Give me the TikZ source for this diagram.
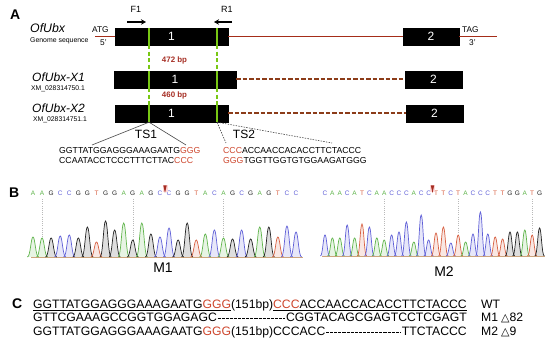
\documentclass[tikz,border=0pt]{standalone}
\usepackage{fontspec}
\setmainfont{Liberation Sans}
\newfontfamily\symfont{DejaVu Sans}
\usetikzlibrary{calc,arrows.meta}
\definecolor{gline}{RGB}{165,45,25}
\definecolor{dline}{RGB}{140,60,25}
\definecolor{bpred}{RGB}{165,45,35}
\definecolor{seqred}{RGB}{205,70,45}
\definecolor{tsgreen}{RGB}{120,200,20}
\definecolor{baseA}{RGB}{95,180,75}
\definecolor{baseC}{RGB}{95,95,215}
\definecolor{baseG}{RGB}{35,35,35}
\definecolor{baseT}{RGB}{215,95,65}
\definecolor{tickgray}{RGB}{185,185,185}
\definecolor{baselinecol}{RGB}{205,165,125}
\definecolor{tsline}{RGB}{70,70,70}
\newcommand{\myfs}[1]{\fontsize{#1}{#1}\selectfont}
\begin{document}
\begin{tikzpicture}[x=1pt,y=-1pt,
  exonbox/.style={fill=black,draw=black,text=white,minimum height=17pt,inner sep=0pt,font=\myfs{12}},
  lbl/.style={inner sep=0pt,anchor=base west},
  clbl/.style={inner sep=0pt,anchor=base},
  panel/.style={lbl,font=\myfs{14}\bfseries},
  gene/.style={lbl,font=\myfs{12.3}\itshape},
  acc/.style={lbl,font=\myfs{6.8}},
  small/.style={lbl,font=\myfs{8.3}},
  bp/.style={clbl,font=\myfs{7.9}\bfseries,text=bpred},
  seqA/.style={lbl,font=\myfs{8.7}},
  seqC/.style={lbl,font=\myfs{12.2}},
  glinestyle/.style={draw=gline,line width=1.3pt},
  intron/.style={draw=dline,line width=2pt,dash pattern=on 4.5pt off 2pt},
  greensolid/.style={draw=tsgreen,line width=2pt},
  greendash/.style={draw=tsgreen,line width=1.8pt,dash pattern=on 4pt off 2.5pt},
  primer/.style={-{Stealth[length=5pt,width=5.5pt]},line width=1.3pt},
  baselet/.style={inner sep=0pt,anchor=base,font=\myfs{6.5}},
  tick/.style={draw=tickgray,line width=0.5pt,dash pattern=on 1pt off 1.2pt},
  hyph/.style={line width=0.85pt,dash pattern=on 3.1pt off 1pt},
  zoomline/.style={draw=tsline,line width=0.6pt},
  zoomdots/.style={draw=tsline,line width=0.6pt,dash pattern=on 1.5pt off 1.2pt}
]
\useasboundingbox (0,0) rectangle (550,347);

% ---------------- Panel A ----------------
\node[panel] (pA) at (10,20) {A};
\node[clbl,font=\myfs{9}] (f1) at (136,13) {F1};
\node[clbl,font=\myfs{9}] (r1) at (227,13) {R1};
\coordinate (f1s) at (127,22); \coordinate (f1e) at (146,22);
\coordinate (r1s) at (232,22); \coordinate (r1e) at (214,22);
\draw[primer] (f1s) -- (f1e);
\draw[primer] (r1s) -- (r1e);

\node[gene] (ofubx) at (30,33) {OfUbx};
\node[lbl,font=\myfs{6.9}] (gseq) at (30,43) {Genome sequence};
\node[small] (atg) at (92,33) {ATG};
\node[small] (five) at (100,45.5) {5'};
\node[small] (tag) at (462,33) {TAG};
\node[small] (three) at (469,45.5) {3'};

\node[exonbox,minimum width=113pt] (g1) at (171.5,36.5) {1};
\node[exonbox,minimum width=56pt] (g2) at (431,36.5) {2};
\coordinate (gs) at (95,36.5);
\coordinate (ge) at (497,36.5);
\path[glinestyle] (gs) -- (g1.west);
\path[glinestyle] (g1.east) -- (g2.west);
\path[glinestyle] (g2.east) -- (ge);

\node[gene,font=\myfs{12}\itshape] (x1name) at (32,82) {OfUbx-X1};
\node[acc] (x1acc) at (31,91) {XM\_028314750.1};
\node[exonbox,minimum width=122pt] (x1a) at (175,79.5) {1};
\node[exonbox,minimum width=57pt] (x1b) at (433.5,79.5) {2};
\path[intron] (x1a.east) -- (x1b.west);

\node[gene,font=\myfs{12}\itshape] (x2name) at (32,113) {OfUbx-X2};
\node[acc] (x2acc) at (33,122) {XM\_028314751.1};
\node[exonbox,minimum width=113pt] (x2a) at (171.5,113.5) {1};
\node[exonbox,minimum width=57pt] (x2b) at (434.5,113.5) {2};
\path[intron] (x2a.east) -- (x2b.west);

\node[bp] (bp472) at (174.5,63) {472 bp};
\node[bp] (bp460) at (174.5,98) {460 bp};

% target sites (green lines)
\coordinate (tsa) at (149,0);
\coordinate (tsb) at (217,0);
\path[greendash] (tsa |- g1.south) -- (tsa |- x1a.north);
\path[greendash] (tsa |- x1a.south) -- (tsa |- x2a.north);
\path[greensolid] (tsa |- g1.north) -- (tsa |- g1.south);
\path[greensolid] (tsa |- x1a.north) -- (tsa |- x1a.south);
\path[greensolid] (tsa |- x2a.north) -- (tsa |- x2a.south);
\path[greendash] (tsb |- g1.south) -- (tsb |- x1a.north);
\path[greendash] (tsb |- x1a.south) -- (tsb |- x2a.north);
\path[greensolid] (tsb |- g1.north) -- (tsb |- g1.south);
\path[greensolid] (tsb |- x1a.north) -- (tsb |- x1a.south);
\path[greensolid] (tsb |- x2a.north) -- (tsb |- x2a.south);

% TS zoom lines
\coordinate (ts1a) at (92,145);
\coordinate (ts1b) at (186,145);
\coordinate (ts2a) at (226,143);
\coordinate (ts2b) at (332,143);
\path[zoomline] (tsa |- x2a.south) -- (ts1a);
\path[zoomline] (tsa |- x2a.south) -- (ts1b);
\path[zoomdots] (tsb |- x2a.south) -- (ts2a);
\path[zoomdots] (tsb |- x2a.south) -- (ts2b);
\node[clbl,font=\myfs{12},fill=white,inner sep=1pt] (ts1) at (146,139) {TS1};
\node[clbl,font=\myfs{12},fill=white,inner sep=1pt] (ts2) at (244,139) {TS2};

\node[seqA] (s1) at (59,154) {GGTTATGGAGGGAAAGAATG\textcolor{seqred}{GGG}};
\node[seqA] (s2) at (59,163.5) {CCAATACCTCCCTTTCTTAC\textcolor{seqred}{CCC}};
\node[seqA] (s3) at (223,154) {\textcolor{seqred}{CCC}ACCAACCACACCTTCTACCC};
\node[seqA] (s4) at (223,163.5) {\textcolor{seqred}{GGG}TGGTTGGTGTGGAAGATGGG};

% ---------------- Panel B ----------------
\node[panel] (pB) at (9,198) {B};

% M1 chromatogram
\foreach \tx/\ty in {42.07/238,132.77/240,223.47/238}{
  \path[tick] (\tx,199) -- (\tx,\ty);
}
\draw[baselinecol,line width=0.8pt] (31,257) -- (303,257);
\foreach \b/\pk [count=\i from 0] in {A/237,A/238,G/238,C/236,C/235,G/238,G/227,T/242,G/221,G/230,A/223,G/240,A/223,G/234,C/237,C/228,G/240,G/223,T/240,A/234,C/230,A/238,G/239,C/230,G/239,A/227,G/227,T/237,C/226,C/232}{
  \pgfmathsetmacro\px{33+\i*9.07}
  \filldraw[draw=base\b,fill=base\b,fill opacity=0.15,line width=0.7pt]
    ({\px-5.6},257) .. controls ({\px-2.6},257) and ({\px-2.1},\pk) .. (\px,\pk)
    .. controls ({\px+2.1},\pk) and ({\px+2.6},257) .. ({\px+5.6},257);
  \node[baselet,text=base\b] (m1b\i) at (\px,196) {\b};
}
\fill[pink!60] (162.5,185.5) rectangle (167.5,192);
\fill[bpred] (163.3,185.5) -- (166.7,185.5) -- (165,193) -- cycle;
\node[clbl,font=\myfs{14}] (m1) at (163,273) {M1};

% M2 chromatogram
\foreach \tx/\ty in {384.2/238,458.2/234,532.2/234}{
  \path[tick] (\tx,199) -- (\tx,\ty);
}
\draw[baselinecol,line width=0.8pt] (322,256) -- (545,256);
\foreach \b/\pk [count=\i from 0] in {C/235,A/238,A/238,C/225,A/238,T/224,C/227,A/238,A/240,C/235,C/232,C/222,A/242,C/215,C/240,T/233,T/227,C/243,T/235,A/242,C/234,C/212,C/234,T/237,T/239,G/232,G/232,A/230,T/235,G/228}{
  \pgfmathsetmacro\px{325+\i*7.4}
  \filldraw[draw=base\b,fill=base\b,fill opacity=0.15,line width=0.7pt]
    ({\px-4.7},256) .. controls ({\px-2.2},256) and ({\px-1.8},\pk) .. (\px,\pk)
    .. controls ({\px+1.8},\pk) and ({\px+2.2},256) .. ({\px+4.7},256);
  \node[baselet,text=base\b] (m2b\i) at (\px,196) {\b};
}
\fill[pink!60] (430,185.5) rectangle (435,192);
\fill[bpred] (430.8,185.5) -- (434.2,185.5) -- (432.5,193) -- cycle;
\node[clbl,font=\myfs{14}] (m2) at (444,277) {M2};

% ---------------- Panel C ----------------
\node[panel] (pC) at (12,308.5) {C};
\node[seqC] (c1) at (33,308.5) {\underline{GGTTATGGAGGGAAAGAATG\textcolor{seqred}{GGG}}(151bp)\underline{\textcolor{seqred}{CCC}ACCAACCACACCTTCTACCC}};
\node[seqC] (c2l) at (33,322) {GTTCGAAAGCCGGTGGAGAGC};
\node[seqC,anchor=base east] (c2r) at ($(c1.base east)+(0,13.5)$) {CGGTACAGCGAGTCCTCGAGT};
\node[seqC] (c3l) at (33,335.5) {GGTTATGGAGGGAAAGAATG\textcolor{seqred}{GGG}(151bp)CCCACC};
\node[seqC,anchor=base east] (c3r) at ($(c1.base east)+(0,27)$) {TTCTACCC};
\draw[hyph] ($(c2l.base east)+(0.5,-3.3)$) -- ($(c2r.base west)+(-0.5,-3.3)$);
\draw[hyph] ($(c3l.base east)+(0.5,-3.3)$) -- ($(c3r.base west)+(-0.5,-3.3)$);
\node[seqC] (wt) at (481,308.5) {WT};
\node[seqC] (m1t) at (481,322) {M1};
\node[seqC] (d82) at (501,322) {{\symfont\myfs{11}△}82};
\node[seqC] (m2t) at (481,335.5) {M2};
\node[seqC] (d9) at (501,335.5) {{\symfont\myfs{11}△}9};
\end{tikzpicture}
\end{document}
